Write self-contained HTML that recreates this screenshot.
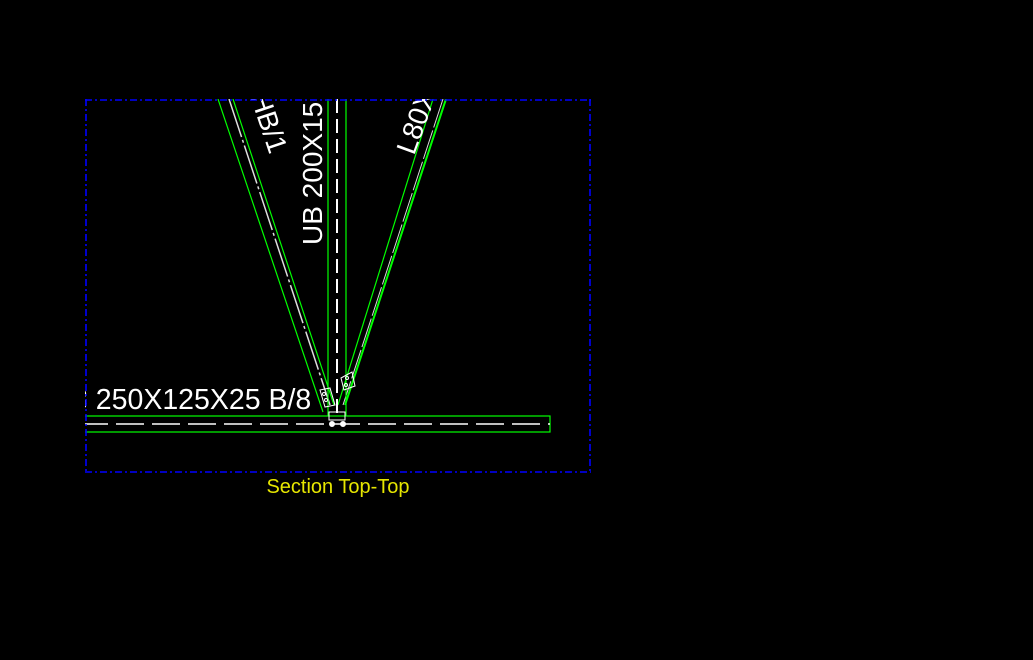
<!DOCTYPE html>
<html><head><style>body{margin:0;background:#000;width:1033px;height:660px;overflow:hidden;position:relative}</style></head><body>
<svg width="1033" height="660" xmlns="http://www.w3.org/2000/svg" font-family="Liberation Sans, sans-serif" style="position:absolute;left:0;top:0">
<defs><clipPath id="c"><rect x="85" y="99" width="506" height="373"/></clipPath></defs>
<g clip-path="url(#c)">
<line x1="218" y1="99" x2="323" y2="412" stroke="#0f0" stroke-width="1.2"/>
<line x1="233" y1="99" x2="334" y2="405" stroke="#0f0" stroke-width="1.2"/>
<line x1="229" y1="99" x2="330" y2="405" stroke="#ddd" stroke-width="1.5" stroke-dasharray="40,3,3,3"/>
<line x1="446" y1="99" x2="345" y2="405" stroke="#0f0" stroke-width="2"/>
<line x1="433" y1="99" x2="338" y2="405" stroke="#0f0" stroke-width="1.2"/>
<line x1="443" y1="99" x2="343" y2="405" stroke="#ddd" stroke-width="1" stroke-dasharray="30,3"/>
<line x1="328" y1="99" x2="328" y2="416" stroke="#0f0" stroke-width="1.2"/>
<line x1="346" y1="99" x2="346" y2="416" stroke="#0f0" stroke-width="1.2"/>
<line x1="337" y1="99" x2="337" y2="416" stroke="#fff" stroke-width="2" stroke-dasharray="14,6"/>
<rect x="80" y="416" width="470" height="16" fill="none" stroke="#0f0" stroke-width="1.2"/>
<line x1="80" y1="424" x2="550" y2="424" stroke="#fff" stroke-width="1.5" stroke-dasharray="28,8"/>
<g stroke="#fff" fill="none" stroke-width="1">
<rect x="329" y="412" width="16" height="8"/>
<circle cx="332" cy="424" r="2.5" fill="#fff"/><circle cx="343" cy="424" r="2.5" fill="#fff"/>
<polygon points="320,390 330,388 335,405 325,407"/>
<polygon points="341,378 352,372 355,386 344,390"/>
<circle cx="324" cy="394" r="1.5"/><circle cx="326" cy="400" r="1.5"/>
<circle cx="347" cy="378" r="1.5"/><circle cx="346" cy="385" r="1.5"/>
</g>
<text x="0" y="0" fill="#fff" font-size="28" transform="translate(322,245) rotate(-90)">UB 200X15</text>
<text x="0" y="0" fill="#fff" font-size="28" transform="translate(250,96) rotate(71.5)">HB/1</text>
<text x="0" y="0" fill="#fff" font-size="28" transform="translate(414,156) rotate(-70)">L80X</text>
<text x="72" y="409" fill="#fff" font-size="28.5">8 250X125X25 B/8</text>
</g>
<g stroke="#0000ff" stroke-width="1.6" stroke-dasharray="7,3,2,3" fill="none">
<line x1="85" y1="100" x2="591" y2="100"/>
<line x1="85" y1="472" x2="591" y2="472"/>
<line x1="86" y1="99" x2="86" y2="472"/>
<line x1="590" y1="99" x2="590" y2="472"/>
</g>
<text x="338" y="493" fill="#e6e600" font-size="20" text-anchor="middle">Section Top-Top</text>
</svg>
</body></html>
